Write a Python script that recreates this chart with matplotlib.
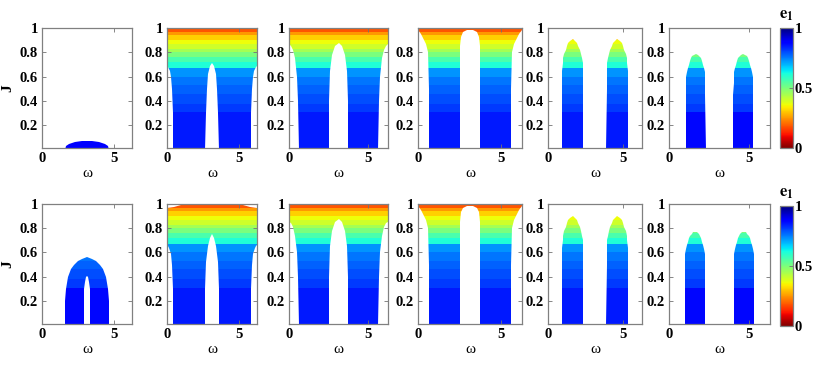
import numpy as np
import matplotlib
matplotlib.use('Agg')
import matplotlib.pyplot as plt
from matplotlib.path import Path
from matplotlib.patches import PathPatch
from matplotlib.cm import ScalarMappable
from matplotlib.colors import Normalize

plt.rcParams['font.family'] = ['Liberation Serif', 'DejaVu Serif']
plt.rcParams['font.weight'] = 'bold'
plt.rcParams['mathtext.fontset'] = 'stix'

TWO_PI = 2 * np.pi

# e1 levels: horizontal bands in J (same for all panels)
band_edges = [0.0, 0.31, 0.38, 0.46, 0.53, 0.60, 0.67, 0.72, 0.76, 0.80,
              0.83, 0.87, 0.90, 0.94, 0.965, 0.99, 1.0]
band_e1 = [0.85, 0.82, 0.80, 0.78, 0.76, 0.73, 0.61, 0.56, 0.50, 0.45,
           0.40, 0.36, 0.31, 0.25, 0.18, 0.10]
# lowest band is a bit darker in some panels
low_band_e1 = [[0.88, 0.85, 0.85, 0.85, 0.85, 0.87],
               [0.87, 0.85, 0.85, 0.85, 0.85, 0.87]]

# panel 1: small dome (top row), arch with a slit (bottom row)
dome_top = [(1.62, 0.0), (1.70, 0.03), (1.90, 0.05), (2.30, 0.065), (2.80, 0.073),
            (3.14, 0.075), (3.50, 0.073), (4.00, 0.065), (4.40, 0.05), (4.62, 0.03),
            (4.70, 0.0)]
arch_outer = [(1.60, 0.0), (1.63, 0.20), (1.67, 0.30), (1.79, 0.40), (2.00, 0.46),
              (2.23, 0.50), (2.50, 0.53), (2.77, 0.55), (3.14, 0.56), (3.51, 0.55),
              (3.78, 0.53), (4.05, 0.50), (4.28, 0.46), (4.49, 0.40), (4.61, 0.30),
              (4.65, 0.20), (4.68, 0.0)]
arch_slit = [(3.34, 0.0), (3.34, 0.30), (3.30, 0.36), (3.22, 0.40), (3.14, 0.41),
             (3.06, 0.40), (2.98, 0.36), (2.94, 0.30), (2.94, 0.0)]

# panels 2-4: white notch at the sides (omega, J) and central gap (half width, J)
notch_side = [
    [[(0.44, 0.0), (0.40, 0.30), (0.34, 0.50), (0.27, 0.60), (0.18, 0.65), (0.08, 0.68), (0.0, 0.69)],
     [(0.63, 0.0), (0.59, 0.40), (0.53, 0.60), (0.38, 0.75), (0.23, 0.82), (0.10, 0.855), (0.0, 0.87)],
     [(0.69, 0.0), (0.66, 0.50), (0.62, 0.80), (0.50, 0.87), (0.37, 0.90), (0.18, 0.95), (0.0, 0.98)]],
    [[(0.44, 0.0), (0.40, 0.30), (0.34, 0.50), (0.26, 0.59), (0.16, 0.635), (0.07, 0.655), (0.0, 0.665)],
     [(0.63, 0.0), (0.59, 0.40), (0.53, 0.60), (0.38, 0.74), (0.23, 0.81), (0.10, 0.84), (0.0, 0.85)],
     [(0.69, 0.0), (0.66, 0.50), (0.62, 0.80), (0.50, 0.87), (0.37, 0.90), (0.18, 0.95), (0.0, 0.98)]],
]
notch_gap = [
    [[(0.49, 0.0), (0.45, 0.30), (0.38, 0.50), (0.28, 0.62), (0.15, 0.69), (0.0, 0.715)],
     [(0.60, 0.0), (0.58, 0.40), (0.52, 0.65), (0.42, 0.78), (0.25, 0.855), (0.0, 0.875)],
     [(0.63, 0.0), (0.62, 0.50), (0.60, 0.85), (0.55, 0.93), (0.42, 0.965), (0.20, 0.98), (0.0, 0.983)]],
    [[(0.49, 0.0), (0.46, 0.30), (0.40, 0.52), (0.30, 0.65), (0.16, 0.72), (0.0, 0.75)],
     [(0.60, 0.0), (0.58, 0.40), (0.52, 0.65), (0.42, 0.78), (0.25, 0.855), (0.0, 0.875)],
     [(0.63, 0.0), (0.62, 0.50), (0.60, 0.85), (0.55, 0.93), (0.42, 0.965), (0.20, 0.98), (0.0, 0.983)]],
]
flat_top = [(0.0, 1.0), (TWO_PI, 1.0)]
curved_top = [(0.0, 0.966), (0.5, 0.975), (1.0, 0.988), (1.5, 0.998),
              (4.78, 0.998), (5.28, 0.988), (5.78, 0.975), (TWO_PI, 0.966)]
notch_top = [[flat_top, flat_top, flat_top], [curved_top, flat_top, flat_top]]

# panels 5-6: two arches, centres and half-width profile (half width, J)
arch_centres = [[[1.64, 4.64], [1.66, 4.62]],
                [[1.64, 4.64], [1.62, 4.66]]]
arch_profile = [
    [[(0.73, 0.0), (0.72, 0.50), (0.70, 0.65), (0.67, 0.71), (0.62, 0.75), (0.55, 0.79),
      (0.47, 0.82), (0.38, 0.85), (0.28, 0.875), (0.16, 0.895), (0.0, 0.91)],
     [(0.62, 0.0), (0.61, 0.45), (0.60, 0.55), (0.58, 0.60), (0.55, 0.64), (0.50, 0.67),
      (0.435, 0.70), (0.37, 0.73), (0.31, 0.75), (0.22, 0.77), (0.12, 0.78), (0.0, 0.785)]],
    [[(0.73, 0.0), (0.72, 0.50), (0.70, 0.64), (0.67, 0.70), (0.62, 0.74), (0.55, 0.78),
      (0.47, 0.81), (0.38, 0.84), (0.28, 0.865), (0.16, 0.885), (0.0, 0.90)],
     [(0.64, 0.0), (0.63, 0.45), (0.62, 0.54), (0.60, 0.59), (0.57, 0.63), (0.52, 0.66),
      (0.45, 0.69), (0.38, 0.72), (0.31, 0.74), (0.22, 0.755), (0.12, 0.765), (0.0, 0.77)]],
]

# axes boxes in pixels (left, right) and rows (top, bottom)
panel_x = [(42, 132), (167, 257), (289, 388), (418, 522), (548, 642), (669, 770)]
row_y = [(28, 148), (204, 324)]
cbar_x = (780, 793)
cbar_y = [(28, 148), (206, 326)]
W, H = 830, 374


def closed(pts):
    verts = list(pts) + [pts[0]]
    codes = [Path.MOVETO] + [Path.LINETO] * (len(pts) - 1) + [Path.CLOSEPOLY]
    return Path(verts, codes)


def notch_region(side, gap, top):
    pc = np.pi
    pts = [side[0], (pc - gap[0][0], 0.0)]
    pts += [(pc - h, j) for h, j in gap]
    pts += [(pc + h, j) for h, j in reversed(gap)]
    pts += [(TWO_PI - side[0][0], 0.0)]
    pts += [(TWO_PI - w, j) for w, j in side]
    pts += list(reversed(top))
    pts += list(reversed(side))
    return closed(pts)


def arch_region(centres, profile):
    paths = []
    for c in centres:
        pts = [(c - h, j) for h, j in profile] + [(c + h, j) for h, j in reversed(profile)]
        paths.append(closed(pts))
    return Path.make_compound_path(*paths)


def box(x0, x1, y0, y1):
    return [x0 / W, 1 - y1 / H, (x1 - x0) / W, (y1 - y0) / H]


cmap = plt.get_cmap('jet_r')
norm = Normalize(0, 1)
fig = plt.figure(figsize=(8.3, 3.74), dpi=100)

for r in range(2):
    for p in range(6):
        ax = fig.add_axes(box(*panel_x[p], *row_y[r]))
        if p == 0:
            if r == 0:
                region = closed(dome_top)
            else:
                region = closed(arch_outer + arch_slit)
        elif p <= 3:
            region = notch_region(notch_side[r][p - 1], notch_gap[r][p - 1], notch_top[r][p - 1])
        else:
            region = arch_region(arch_centres[r][p - 4], arch_profile[r][p - 4])

        vals = np.array([low_band_e1[r][p]] + band_e1[1:]).reshape(-1, 1)
        mesh = ax.pcolormesh([0, TWO_PI], band_edges, vals, cmap=cmap, norm=norm,
                             shading='flat')
        patch = PathPatch(region, transform=ax.transData, facecolor='none', edgecolor='none')
        mesh.set_clip_path(patch)

        ax.set_xlim(0, TWO_PI)
        ax.set_ylim(0.015 if r == 0 else 0.01, 1)
        ax.set_xticks([0, 5])
        if r == 0 and p == 3:
            ax.set_yticks([0.2, 0.4, 0.6, 0.8])
            ax.set_yticklabels(['0.2', '0.4', '0.6', '0.8'])
        else:
            ax.set_yticks([0.2, 0.4, 0.6, 0.8, 1])
            ax.set_yticklabels(['0.2', '0.4', '0.6', '0.8', '1'])
        ax.tick_params(direction='in', length=3, width=0.6, top=True, right=True,
                       colors='0.45', labelcolor='black', labelsize=10.5, pad=3)
        for s in ax.spines.values():
            s.set_edgecolor('0.5')
            s.set_linewidth(0.9)
        ax.set_xlabel('ω', fontsize=11, fontweight='normal', labelpad=1)
        if p == 0:
            ax.set_ylabel('J', fontsize=11, fontweight='bold')
            ax.yaxis.set_label_coords(-0.31, 0.5)

    cax = fig.add_axes(box(*cbar_x, *cbar_y[r]))
    cb = fig.colorbar(ScalarMappable(norm=norm, cmap=cmap), cax=cax, ticks=[0, 0.5, 1])
    cb.ax.set_yticklabels(['0', '0.5', '1'])
    cb.ax.tick_params(direction='in', length=3, width=0.6, colors='0.45',
                      labelcolor='black', labelsize=10.5, pad=1)
    cb.outline.set_edgecolor('0.5')
    cb.outline.set_linewidth(0.9)
    fig.text((cbar_x[0] + cbar_x[1]) / 2 / W, 1 - (cbar_y[r][0] - 13) / H,
             r'$\mathbf{e}_{\mathbf{1}}$', fontsize=12, ha='center', va='center')

fig.savefig('out.png', dpi=100)
